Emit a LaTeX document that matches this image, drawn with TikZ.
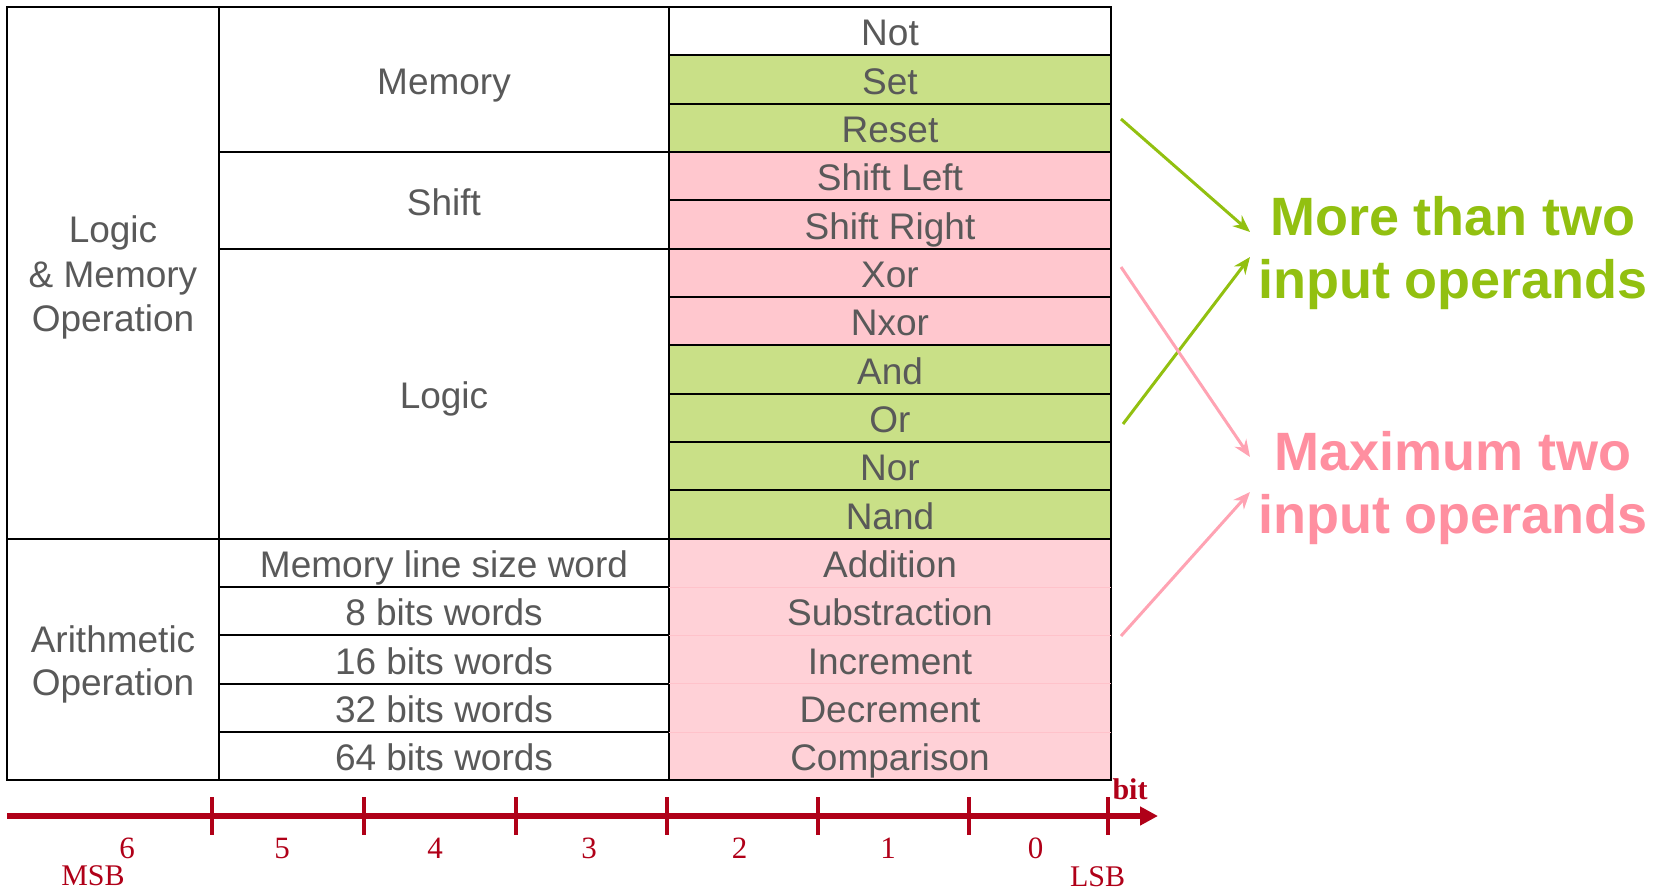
\documentclass[tikz,border=0pt]{standalone}
\usepackage{fontspec}
\setmainfont{Liberation Sans}
\newfontfamily\axisfont{Liberation Serif}
\usetikzlibrary{arrows.meta}

\definecolor{txtgray}{HTML}{595959}
\definecolor{cellgreen}{HTML}{C9E087}
\definecolor{cellpink}{HTML}{FFC7CE}
\definecolor{arithpink}{HTML}{FFD1D7}
\definecolor{arithline}{HTML}{FFC2CA}
\definecolor{axisred}{HTML}{B00018}
\definecolor{opgreen}{HTML}{92C010}
\definecolor{oppink}{HTML}{FF8FA0}
\definecolor{arrowpink}{HTML}{FFA3B3}

\tikzset{
  cellbase/.style={draw=black, line width=2.2pt, inner sep=0pt, text=txtgray,
    font=\fontsize{37}{44.5}\selectfont, align=center},
  onecell/.style={cellbase, text height=35pt, text depth=5.4pt},
  leftcell/.style={draw=black, line width=2.2pt, inner sep=0pt, minimum width=212pt},
  celltext/.style={inner sep=0pt, text=txtgray, align=center,
    font=\fontsize{37}{44.5}\selectfont},
  midcell/.style={onecell, minimum width=450pt},
  opcell/.style={onecell, minimum width=442pt, minimum height=48.33pt},
  optext/.style={inner sep=0pt, text=txtgray, font=\fontsize{37}{44.5}\selectfont,
    text height=35pt, text depth=5.4pt},
  groupnote/.style={inner sep=0pt, align=center,
    font=\fontsize{54}{63}\selectfont\bfseries},
  pointer/.style={line width=3pt, -{Stealth[length=17pt, width=14pt]}},
  axisline/.style={draw=axisred, line width=6pt, -{Triangle[length=18pt, width=18pt]}},
  tick/.style={draw=axisred, line width=4pt},
  bitnum/.style={text=axisred, inner sep=0pt, font=\axisfont\fontsize{31}{34}\selectfont},
  bitend/.style={text=axisred, inner sep=0pt, font=\axisfont\fontsize{30}{34}\selectfont}
}

\begin{document}
\begin{tikzpicture}[x=1pt, y=-1pt]
\useasboundingbox (0,0) rectangle (1657,891);

% left column: operation families
\node[leftcell, minimum height=531.63pt] (logmem) at (113, 272.8) {};
\node[celltext] (logmemtext) at (113, 277.8) {Logic\\\& Memory\\Operation};
\node[leftcell, minimum height=241.65pt] (arithop) at (113, 659.45) {};
\node[celltext, font=\fontsize{37}{43.5}\selectfont] (arithoptext) at (113, 664.5)
  {Arithmetic\\Operation};

% middle column: sub-families and word sizes
\node[midcell, minimum height=144.99pt] (memory) at (444, 79.5) {Memory};
\node[midcell, minimum height=96.66pt] (shift) at (444, 200.32) {Shift};
\node[midcell, minimum height=289.98pt] (logic) at (444, 393.64) {Logic};
\foreach \i/\nm/\txt in {11/memline/Memory line size word, 12/wviii/8 bits words,
    13/wxvi/16 bits words, 14/wxxxii/32 bits words, 15/wlxiv/64 bits words}
  \node[midcell, minimum height=48.33pt] (\nm) at (444, {7+48.33*(\i+0.5)}) {\txt};

% right column: single operations
\foreach \i/\nm/\fc/\txt in {0/opnot/white/Not, 1/opset/cellgreen/Set,
    2/opreset/cellgreen/Reset, 3/opshl/cellpink/Shift Left,
    4/opshr/cellpink/Shift Right, 5/opxor/cellpink/Xor, 6/opnxor/cellpink/Nxor,
    7/opand/cellgreen/And, 8/opor/cellgreen/Or, 9/opnor/cellgreen/Nor,
    10/opnand/cellgreen/Nand}
  \node[opcell, fill=\fc] (\nm) at (890, {7+48.33*(\i+0.5)}) {\txt};

% arithmetic operations share one block
\node[cellbase, fill=arithpink, minimum width=442pt, minimum height=241.65pt]
  (arith) at (890, 659.45) {};
\foreach \i in {12,13,14,15}
  \draw[arithline, line width=0.8pt] ([xshift=1.2pt]arith.west |- 0,{7+48.33*\i})
    -- ([xshift=-1.2pt]arith.east |- 0,{7+48.33*\i});
\foreach \i/\nm/\txt in {11/opadd/Addition, 12/opsub/Substraction,
    13/opinc/Increment, 14/opdec/Decrement, 15/opcmp/Comparison}
  \node[optext] (\nm) at (890, {7+48.33*(\i+0.5)}) {\txt};

% operand-count notes
\node[groupnote, text=opgreen] (manyops) at (1453, 253.5)
  {More than two\\input operands};
\node[groupnote, text=oppink] (twoops) at (1453, 488.5)
  {Maximum two\\input operands};

\coordinate (g1s) at (1121,119);  \coordinate (g1e) at (1250,232);
\coordinate (g2s) at (1123,424);  \coordinate (g2e) at (1250,257);
\coordinate (p1s) at (1121,267);  \coordinate (p1e) at (1250,457);
\coordinate (p2s) at (1121,636);  \coordinate (p2e) at (1250,492);
\draw[pointer, opgreen] (g1s) -- (g1e);
\draw[pointer, opgreen] (g2s) -- (g2e);
\draw[pointer, arrowpink] (p1s) -- (p1e);
\draw[pointer, arrowpink] (p2s) -- (p2e);

% bit axis
\coordinate (axl) at (7,816);
\coordinate (axr) at (1158,816);
\draw[axisline] (axl) -- (axr);
\foreach \x in {212,364,515.5,667,817.5,969,1108}
  \draw[tick] (\x,797) -- (\x,835);
\foreach \x/\b in {127/6, 282/5, 435/4, 589/3, 739.5/2, 888/1, 1035.5/0}
  \node[bitnum] (bit\b) at (\x,848) {\b};
\node[bitend] (msb) at (93,876) {MSB};
\node[bitend] (lsb) at (1097.5,877) {LSB};
\node[bitend, font=\axisfont\bfseries\fontsize{30}{34}\selectfont] (bitlbl) at (1130,789) {bit};
\end{tikzpicture}
\end{document}
